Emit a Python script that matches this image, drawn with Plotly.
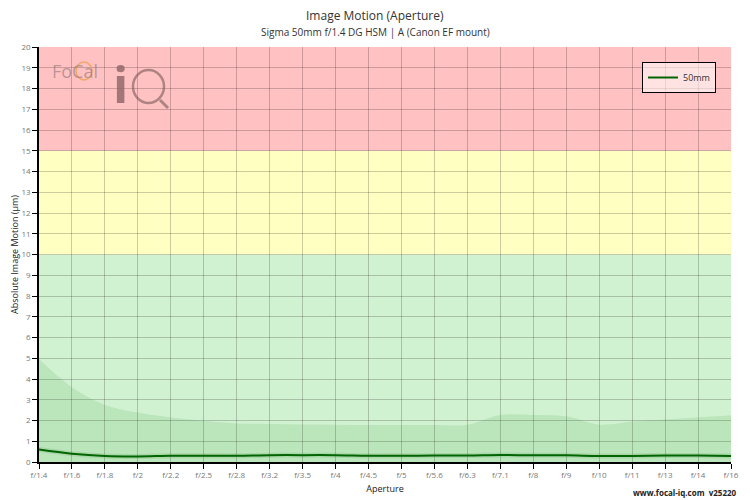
import plotly.graph_objects as go

# aperture stops along the x axis
apertures = ["f/1.4", "f/1.6", "f/1.8", "f/2", "f/2.2", "f/2.5", "f/2.8", "f/3.2",
             "f/3.5", "f/4", "f/4.5", "f/5", "f/5.6", "f/6.3", "f/7.1", "f/8",
             "f/9", "f/10", "f/11", "f/13", "f/14", "f/16"]

# measured image motion for the 50mm (um)
motion_50mm = [0.60, 0.40, 0.29, 0.27, 0.30, 0.30, 0.30, 0.33, 0.33, 0.33, 0.30, 0.30,
               0.31, 0.31, 0.34, 0.32, 0.32, 0.29, 0.29, 0.31, 0.31, 0.29]

# upper envelope of the shaded area (um)
envelope = [4.96, 3.60, 2.75, 2.38, 2.15, 1.99, 1.86, 1.83, 1.81, 1.80, 1.78, 1.78,
            1.78, 1.80, 2.27, 2.27, 2.20, 1.80, 1.95, 2.05, 2.15, 2.25]

# quality zones: (lower, upper, colour)
zones = [(0, 10, "#d1f2d1"), (10, 15, "#ffffc1"), (15, 20, "#ffc1c1")]

FONT = "Open Sans"
L, R, T, B = 39, 19, 47, 38
PW, PH = 750 - L - R, 500 - T - B


def px(x):
    return (x - L) / PW


def py(y):
    return 1 - (y - T) / PH


fig = go.Figure()

fig.add_trace(go.Scatter(
    x=apertures, y=envelope, mode="lines", line=dict(width=0, shape="spline"),
    fill="tozeroy", fillcolor="rgba(0,120,0,0.10)", showlegend=False, hoverinfo="skip"))

# soft halo under the main line
fig.add_trace(go.Scatter(
    x=apertures, y=motion_50mm, mode="lines", line=dict(color="rgba(0,100,0,0.10)", width=5, shape="spline"),
    showlegend=False, hoverinfo="skip"))

fig.add_trace(go.Scatter(
    x=apertures, y=motion_50mm, mode="lines", name="50mm",
    line=dict(color="#006400", width=2, shape="spline")))

for lo, hi, col in zones:
    fig.add_shape(type="rect", xref="paper", yref="y", x0=0, x1=1, y0=lo, y1=hi,
                  fillcolor=col, line_width=0, layer="below")

fig.update_layout(
    width=750, height=500,
    margin=dict(l=L, r=R, t=T, b=B),
    paper_bgcolor="white", plot_bgcolor="white",
    font=dict(family=FONT, color="#333"),
    showlegend=True,
    legend=dict(x=px(716), y=py(62), xanchor="right", yanchor="top",
                bgcolor="rgba(255,255,255,0.55)", bordercolor="black", borderwidth=1,
                font=dict(size=9, color="#333"), itemwidth=30),
    xaxis=dict(type="category", range=[0, len(apertures) - 1], automargin=False,
               showgrid=True, gridcolor="rgba(0,0,0,0.2)", gridwidth=1,
               showline=True, linecolor="black", linewidth=1.5,
               ticks="outside", ticklen=5, tickcolor="black",
               tickfont=dict(size=8, color="#777"), tickangle=0,
               title=dict(text="Aperture", font=dict(size=9, color="#222"), standoff=6),
               zeroline=False),
    yaxis=dict(range=[0, 20], dtick=1, automargin=False,
               showgrid=True, gridcolor="rgba(0,0,0,0.2)", gridwidth=1,
               showline=True, linecolor="black", linewidth=1.5,
               ticks="outside", ticklen=5, tickcolor="black",
               tickfont=dict(size=8, color="#777"),
               title=dict(text="Absolute Image Motion (µm)", font=dict(size=9, color="#222"), standoff=1),
               zeroline=False),
)

texts = [
    ("Image Motion (Aperture)", 375, 15, "center", 12, "#333"),
    ("Sigma 50mm f/1.4 DG HSM | A (Canon EF mount)", 375, 32, "center", 10, "#333"),
    ("<b>www.focal-iq.com  v25220</b>", 739, 492, "right", 8, "#222"),
]
for text, x, y, anchor, size, col in texts:
    fig.add_annotation(text=text, x=px(x), y=py(y), xref="paper", yref="paper",
                       xanchor=anchor, yanchor="middle", showarrow=False,
                       font=dict(size=size, color=col))

# faint FoCal iQ watermark
fig.add_annotation(text="FoCal", x=px(50), y=py(71), xref="paper", yref="paper",
                   xanchor="left", yanchor="middle", showarrow=False,
                   font=dict(size=18, color="rgba(130,110,110,0.55)"))
fig.add_shape(type="circle", xref="paper", yref="paper",
              x0=px(76), x1=px(92), y0=py(80), y1=py(62),
              line=dict(color="rgba(240,160,80,0.8)", width=1.5))
fig.add_annotation(text="<b>i</b>", x=px(111), y=py(84), xref="paper", yref="paper",
                   xanchor="left", yanchor="middle", showarrow=False,
                   font=dict(size=50, color="rgba(140,100,100,0.8)"))
fig.add_shape(type="circle", xref="paper", yref="paper",
              x0=px(133), x1=px(164), y0=py(103), y1=py(70),
              line=dict(color="rgba(120,90,90,0.6)", width=2.5))
fig.add_shape(type="line", xref="paper", yref="paper",
              x0=px(160), x1=px(168), y0=py(100), y1=py(108),
              line=dict(color="rgba(120,90,90,0.6)", width=3))

# the page body has an 8px default margin; drop it so the figure fills the window
fig.write_html("out.html", config={"displayModeBar": False},
               post_script="document.body.style.margin='0px';")
